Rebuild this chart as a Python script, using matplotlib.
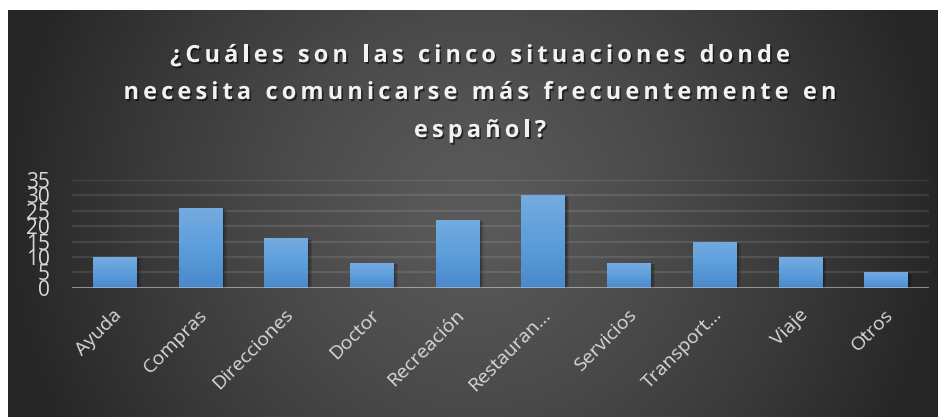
import matplotlib
matplotlib.use("Agg")
import matplotlib.pyplot as plt
import matplotlib.patheffects as pe
from matplotlib.colors import LinearSegmentedColormap
from matplotlib.font_manager import FontProperties, findfont, get_font
from matplotlib.transforms import ScaledTranslation
import numpy as np

categories = ["Ayuda", "Compras", "Direcciones", "Doctor", "Recreación",
              "Restauran…", "Servicios", "Transport…", "Viaje", "Otros"]
counts = [10, 26, 16, 8, 22, 30, 8, 15, 10, 5]
yticks = [0, 5, 10, 15, 20, 25, 30, 35]
title_lines = ["¿Cuáles son las cinco situaciones donde",
               "necesita comunicarse más frecuentemente en",
               "español?"]

W, H = 945, 417
FONT = ["Open Sans", "DejaVu Sans"]
plt.rcParams["font.family"] = FONT

fig = plt.figure(figsize=(W / 100, H / 100), dpi=100, facecolor="white")

# dark panel with a soft radial highlight in the middle
bg = fig.add_axes([8 / W, 0, 930 / W, 407 / H])
bg.set_axis_off()
yy, xx = np.mgrid[0:407, 0:930]
d = np.hypot(xx - 465, yy - 200) / 470
v = 90 - 52 * np.clip(d, 0, 1) ** 1.3
bg.imshow(np.dstack([v, v, v]) / 255, aspect="auto", interpolation="bilinear")

ax = fig.add_axes([72 / W, 1 - 287.7 / H, 857 / W, 107.7 / H])
ax.set_facecolor("none")
for s in ax.spines.values():
    s.set_visible(False)

x = np.arange(len(categories))
bw = 0.51
bars = ax.bar(x, counts, width=bw, color="#5b9bd5", zorder=2)
blue = LinearSegmentedColormap.from_list("bar", ["#4a89cb", "#5c9edc", "#75abe0"])
grad = np.linspace(0, 1, 128).reshape(-1, 1)
for b in bars:
    b.set_path_effects([
        pe.SimplePatchShadow(offset=(3, -1), shadow_rgbFace="black", alpha=0.12),
        pe.SimplePatchShadow(offset=(2, -1), shadow_rgbFace="black", alpha=0.15),
        pe.SimplePatchShadow(offset=(1, 0), shadow_rgbFace="black", alpha=0.15),
        pe.Normal()])
    im = ax.imshow(grad, cmap=blue, aspect="auto", origin="lower", zorder=2.1,
                   extent=[b.get_x(), b.get_x() + b.get_width(), 0, b.get_height()])
    im.set_clip_path(b)

ax.set_xlim(-0.5, len(categories) - 0.5)
ax.set_ylim(0, 35)
ax.set_yticks(yticks)
ax.grid(axis="y", color="white", alpha=0.1, lw=1.6, zorder=0)
ax.axhline(0, color="#d0d0d0", alpha=0.6, lw=2, zorder=3)

ax.tick_params(axis="y", length=0, pad=16, labelsize=15, labelcolor="#d9d9d9")
ax.tick_params(axis="x", length=0, pad=13, labelsize=14, labelcolor="#d9d9d9")
ax.set_xticks(x)
ax.set_xticklabels(categories, rotation=45, ha="right", rotation_mode="anchor")
shift = ScaledTranslation(-2 / 100, 0, fig.dpi_scale_trans)
for lab in ax.get_xticklabels():
    lab.set_transform(lab.get_transform() + shift)

# title drawn glyph by glyph to get the wide letter spacing
prop = FontProperties(family=FONT, weight="bold", size=17)
ft = get_font(findfont(prop))
ft.set_size(17, 100)


def advance(c):
    return ft.load_char(ord(c)).linearHoriAdvance / 65536


track = (713 - sum(advance(c) for c in title_lines[1])) / (len(title_lines[1]) - 1)
shadow = [pe.SimplePatchShadow(offset=(1.2, -1.5), shadow_rgbFace="black", alpha=0.55),
          pe.Normal()]
for line, base in zip(title_lines, [62, 99, 137]):
    widths = [advance(c) for c in line]
    px = 480 - (sum(widths) + track * (len(line) - 1)) / 2
    for c, w in zip(line, widths):
        fig.text(px / W, 1 - base / H, c, fontproperties=prop, color="#f2f2f2",
                 ha="left", va="baseline", path_effects=shadow)
        px += w + track

fig.savefig("out.png", dpi=100, facecolor="white")
